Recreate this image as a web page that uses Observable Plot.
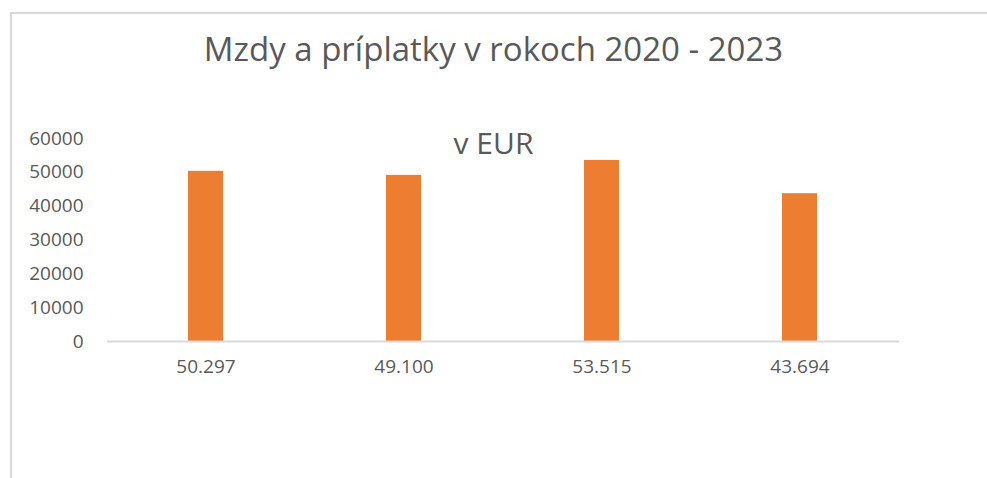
<!DOCTYPE html>
<html>
<head>
<meta charset="utf-8">
<script src="https://cdn.jsdelivr.net/npm/d3@7"></script>
<script src="https://cdn.jsdelivr.net/npm/@observablehq/plot@0.6"></script>
<style>
  html, body { margin: 0; padding: 0; background: #fff; }
  #wrap { position: relative; width: 987px; height: 478px; overflow: hidden; font-family: "Open Sans", sans-serif; }
  #frame { position: absolute; left: 10px; top: 12px; width: 990px; height: 500px; border-top: 2px solid #d9d9d9; border-left: 2px solid #d9d9d9; box-sizing: border-box; }
  #title { position: absolute; left: 0; top: 32px; width: 987px; text-align: center; font-size: 33px; color: #595959; line-height: 1; }
  #chart { position: absolute; left: 0; top: 0; }
</style>
</head>
<body>
<div id="wrap">
  <div id="frame"></div>
  <div id="title">Mzdy a príplatky v rokoch 2020 - 2023</div>
  <div id="chart"></div>
</div>
<script>
const categories = ["50.297", "49.100", "53.515", "43.694"];
const values = [50297, 49100, 53515, 43694];
const seriesName = "v EUR";
const yTicks = [0, 10000, 20000, 30000, 40000, 50000, 60000];

const data = categories.map((c, i) => ({category: c, value: values[i]}));

const chart = Plot.plot({
  width: 987,
  height: 478,
  marginTop: 138,
  marginBottom: 137,
  marginLeft: 107,
  marginRight: 88,
  style: {fontFamily: "'Open Sans', sans-serif", fontSize: "19px", color: "#595959", background: "transparent"},
  x: {domain: categories, paddingInner: 0.823, paddingOuter: 0.4115, label: null, tickSize: 0, tickPadding: 18},
  y: {domain: [0, 60000], ticks: yTicks, tickFormat: d => String(d), label: null, tickSize: 0, tickPadding: 24},
  marks: [
    Plot.barY(data, {x: "category", y: "value", fill: "#ED7D31"}),
    Plot.ruleY([0], {stroke: "#d9d9d9", strokeWidth: 2}),
    Plot.text([seriesName], {frameAnchor: "top", text: d => d, dx: -10, dy: -6, fontSize: 30, fill: "#595959", lineAnchor: "top"})
  ]
});
document.getElementById("chart").appendChild(chart);
</script>
</body>
</html>
